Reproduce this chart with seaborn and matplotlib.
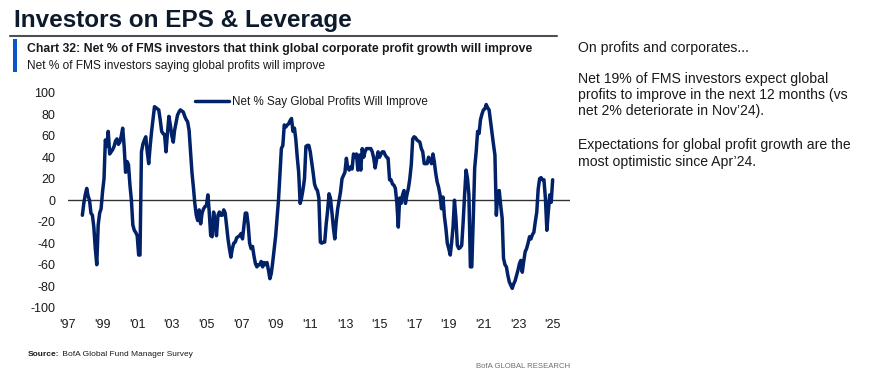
import matplotlib
matplotlib.use('Agg')
import matplotlib.pyplot as plt
import pandas as pd
import seaborn as sns

# Net % of FMS investors saying global profits will improve (monthly, from Oct 1997)
start_month = '1997-10'
net_pct = [
    -14, -3, 5,                                               # 1997
    11, 4, 0, -12, -14, -25, -45, -60, -23, -12, -8, 8,       # 1998
    20, 56, 50, 64, 43, 45, 47, 50, 55, 57, 52, 54,           # 1999
    60, 67, 50, 26, 36, 33, 14, 0, -23, -28, -30, -33,        # 2000
    -51, -51, 45, 52, 56, 59, 45, 34, 50, 64, 75, 87,         # 2001
    86, 85, 84, 75, 64, 62, 61, 45, 62, 78, 70, 60,           # 2002
    54, 65, 72, 79, 82, 84, 83, 82, 78, 75, 73, 65,           # 2003
    45, 26, 12, -3, -14, -19, -9, -22, -12, -8, -6, -5,       # 2004
    5, -11, -33, -34, -11, -20, -33, -14, -11, -14, -14, -9,  # 2005
    -12, -23, -36, -45, -53, -45, -40, -39, -35, -34, -33, -31,  # 2006
    -36, -25, -12, -12, -23, -40, -45, -43, -52, -59, -62, -60,  # 2007
    -60, -57, -62, -58, -60, -58, -65, -73, -68, -57, -45, -33,  # 2008
    -15, 0, 25, 48, 51, 70, 68, 70, 71, 74, 76, 64,           # 2009
    67, 57, 40, 26, -3, 2, 10, 20, 50, 51, 51, 45,            # 2010
    35, 26, 15, 11, 9, 2, -39, -40, -39, -39, -23, -10,       # 2011
    6, 2, -11, -25, -36, -20, -8, 0, 8, 20, 23, 26,           # 2012
    39, 30, 28, 31, 29, 43, 40, 43, 28, 42, 28, 48,           # 2013
    40, 45, 48, 48, 48, 48, 45, 39, 30, 38, 45, 40,           # 2014
    43, 45, 45, 42, 40, 39, 19, 19, 15, 14, 11, -2,           # 2015
    -25, 2, -3, 5, 9, -3, 5, 11, 20, 33, 57, 59,              # 2016
    58, 56, 55, 54, 48, 45, 34, 34, 34, 40, 37, 34,           # 2017
    43, 36, 25, 17, 12, 5, -8, 3, -15, -26, -40, -45,         # 2018
    -51, -40, -25, 0, -17, -42, -45, -44, -42, -20, 5, 28,    # 2019
    20, 5, -62, -62, -17, 30, 45, 64, 62, 75, 80, 84,         # 2020
    85, 89, 86, 84, 73, 62, 52, 42, -14, 8, 9, -5,            # 2021
    -17, -54, -60, -62, -70, -76, -79, -82, -78, -75, -70, -65,  # 2022
    -59, -56, -67, -57, -48, -45, -40, -34, -36, -32, -30, -20,  # 2023
    -11, 10, 20, 21, 19, 19, 2, -28, -11, 5, -2, 19,          # 2024
]
tick_years = [1997, 1999, 2001, 2003, 2005, 2007, 2009, 2011,
              2013, 2015, 2017, 2019, 2021, 2023, 2025]
tick_labels = ["'" + str(y)[2:] for y in tick_years]
y_ticks = [100, 80, 60, 40, 20, 0, -20, -40, -60, -80, -100]
series_name = 'Net % Say Global Profits Will Improve'

navy = '#012169'
text_col = '#1a1a1a'

sns.set_style('white')
plt.rcParams['font.family'] = ['Liberation Sans', 'DejaVu Sans']
plt.rcParams['axes.unicode_minus'] = False

dates = pd.date_range(start_month, periods=len(net_pct), freq='ME')
df = pd.DataFrame({'date': dates, 'value': net_pct})

fig = plt.figure(figsize=(8.78, 3.79), dpi=100)
ax = fig.add_axes([68 / 878, 1 - 307.7 / 379, 502 / 878, 215 / 379])

ax.axhline(0, color='#333333', lw=1.0, zorder=1)
sns.lineplot(data=df, x='date', y='value', ax=ax, color=navy, lw=2.5,
             label=series_name, zorder=3)

ax.set_xlim(pd.Timestamp('1997-01-01'), pd.Timestamp('2026-01-01'))
ax.set_ylim(-100, 100)
ax.set_xticks([pd.Timestamp(f'{y}-01-01') for y in tick_years])
ax.set_xticklabels(tick_labels)
ax.set_yticks(y_ticks)
ax.set_yticklabels([str(v) for v in y_ticks])
ax.tick_params(axis='both', length=0, labelsize=9, colors=text_col)
ax.tick_params(axis='x', pad=8)
ax.tick_params(axis='y', pad=9)
ax.set_xlabel('')
ax.set_ylabel('')
sns.despine(ax=ax, left=True, bottom=True)

leg = ax.legend(loc='upper left', bbox_to_anchor=((195 - 68) / 502, 0.985),
                frameon=False, borderpad=0, borderaxespad=0,
                handlelength=2.9, handletextpad=0.25, fontsize=8.4)
for t in leg.get_texts():
    t.set_color(text_col)

# headings
fig.text(14 / 878, 1 - 20 / 379, 'Investors on EPS & Leverage', fontsize=17.5,
         fontweight='bold', color='#0d1a2b', va='center', ha='left')
fig.add_artist(plt.Line2D([10 / 878, 557 / 878], [1 - 36 / 379, 1 - 36 / 379],
                          color='#4a4f57', lw=1.5))
fig.add_artist(plt.Rectangle((13 / 878, 1 - 72 / 379), 4 / 878, 33 / 379,
                             color='#0a56c8', lw=0))
fig.text(27 / 878, 1 - 49 / 379,
         'Chart 32: Net % of FMS investors that think global corporate profit growth will improve',
         fontsize=8.8, fontweight='bold', color=text_col, va='center', ha='left')
fig.text(27 / 878, 1 - 65.5 / 379,
         'Net % of FMS investors saying global profits will improve',
         fontsize=8.6, color=text_col, va='center', ha='left')

# footer
src = fig.text(28 / 878, 1 - 354 / 379, 'Source:', fontsize=6, fontweight='bold',
               color=text_col, va='center', ha='left')
ax.annotate(' BofA Global Fund Manager Survey', xy=(1, 0.5), xycoords=src,
            fontsize=6, color=text_col, va='center', ha='left',
            annotation_clip=False)
fig.text(570 / 878, 1 - 366 / 379, 'BofA GLOBAL RESEARCH', fontsize=5.6,
         color='#707070', va='center', ha='right')

# commentary
side = dict(fontsize=10.1, color=text_col, va='center', ha='left')
fig.text(578 / 878, 1 - 48 / 379, 'On profits and corporates...', **side)
fig.text(578 / 878, 1 - 95 / 379,
         'Net 19% of FMS investors expect global\n'
         'profits to improve in the next 12 months (vs\n'
         'net 2% deteriorate in Nov\u201924).', linespacing=1.21, **side)
fig.text(578 / 878, 1 - 153.5 / 379,
         'Expectations for global profit growth are the\n'
         'most optimistic since Apr\u201924.', linespacing=1.21, **side)

fig.savefig('out.png', dpi=100)
